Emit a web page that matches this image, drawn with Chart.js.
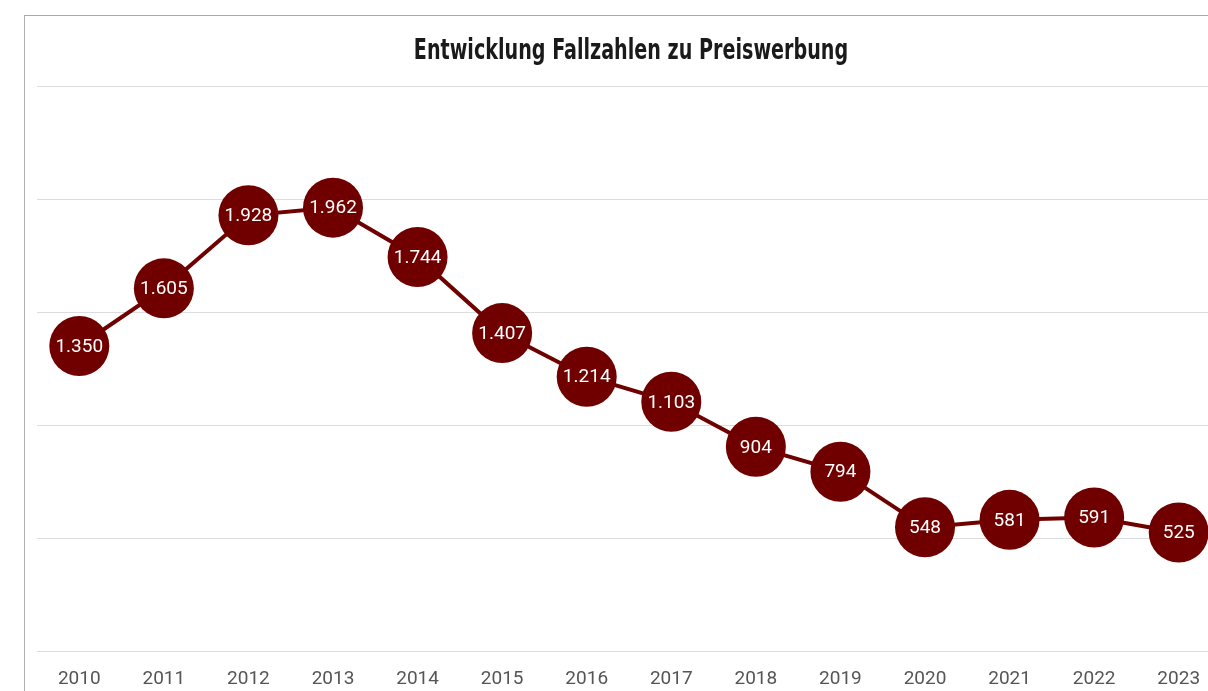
<!DOCTYPE html>
<html>
<head>
<meta charset="utf-8">
<script src="https://cdn.jsdelivr.net/npm/chart.js@4"></script>
<style>
  html, body { margin: 0; padding: 0; background: #fff; overflow: hidden; }
  .frame {
    position: absolute; left: 24px; top: 15px;
    width: 1212px; height: 700px;
    border-left: 1px solid #b0b0b0; border-top: 1px solid #a8a8a8;
  }
  .frame canvas { display: block; }
</style>
</head>
<body>
<div class="frame">
  <canvas id="chart" width="1212" height="696"></canvas>
</div>
<script>
// Daten
const jahre = ['2010', '2011', '2012', '2013', '2014', '2015', '2016', '2017', '2018', '2019', '2020', '2021', '2022', '2023'];
const fallzahlen = [1350, 1605, 1928, 1962, 1744, 1407, 1214, 1103, 904, 794, 548, 581, 591, 525];
const yMax = 2500;
const yStep = 500;
const titel = 'Entwicklung Fallzahlen zu Preiswerbung';

// Tausenderpunkt wie im Original (1.350)
function formatDE(v) {
    return String(v).replace(/\B(?=(\d{3})+(?!\d))/g, '.');
}

// Werte mittig in die Punkte schreiben
const pointLabels = {
    id: 'pointLabels',
    afterDatasetsDraw(chart) {
        const c = chart.ctx;
        const meta = chart.getDatasetMeta(0);
        c.save();
        c.fillStyle = '#ffffff';
        c.font = '19px Roboto';
        c.textAlign = 'center';
        c.textBaseline = 'middle';
        meta.data.forEach((pt, i) => {
            c.fillText(formatDE(chart.data.datasets[0].data[i]), pt.x, pt.y + 1);
        });
        c.restore();
    }
};

// schmaler Titel (Original nutzt eine Condensed-Schrift)
const schmalTitel = {
    id: 'schmalTitel',
    afterDraw(chart) {
        const c = chart.ctx;
        c.save();
        c.translate(chart.width / 2, 36);
        c.scale(0.76, 1);
        c.fillStyle = '#1a1a1a';
        c.font = 'bold condensed 28px "DejaVu Sans"';
        c.textAlign = 'center';
        c.textBaseline = 'middle';
        c.fillText(titel, 0, 0);
        c.restore();
    }
};

const ctx = document.getElementById('chart');
new Chart(ctx, {
    type: 'line',
    data: {
        labels: jahre,
        datasets: [{
            label: 'Fallzahlen',
            data: fallzahlen,
            borderColor: '#6e0000',
            backgroundColor: '#6e0000',
            borderWidth: 4,
            pointRadius: 30,
            pointHoverRadius: 30,
            pointBackgroundColor: '#700000',
            pointBorderWidth: 0,
            tension: 0,
            clip: false
        }]
    },
    options: {
        responsive: false,
        animation: false,
        layout: { autoPadding: false, padding: { left: 12, right: 16, top: 70, bottom: 4 } },
        plugins: {
            legend: { display: false },
            tooltip: { enabled: false },
            title: { display: false }
        },
        scales: {
            x: {
                offset: true,
                grid: { display: false, drawTicks: false },
                border: { display: false },
                ticks: {
                    color: '#555555',
                    font: { family: 'Roboto', size: 19 },
                    padding: 17,
                    maxRotation: 0
                }
            },
            y: {
                min: 0,
                max: yMax,
                afterFit: (s) => { s.width = 0; },
                grid: { color: '#dcdcdc', lineWidth: 1, drawTicks: false },
                border: { display: false },
                ticks: { display: false, stepSize: yStep }
            }
        }
    },
    plugins: [pointLabels, schmalTitel]
});
</script>
</body>
</html>
